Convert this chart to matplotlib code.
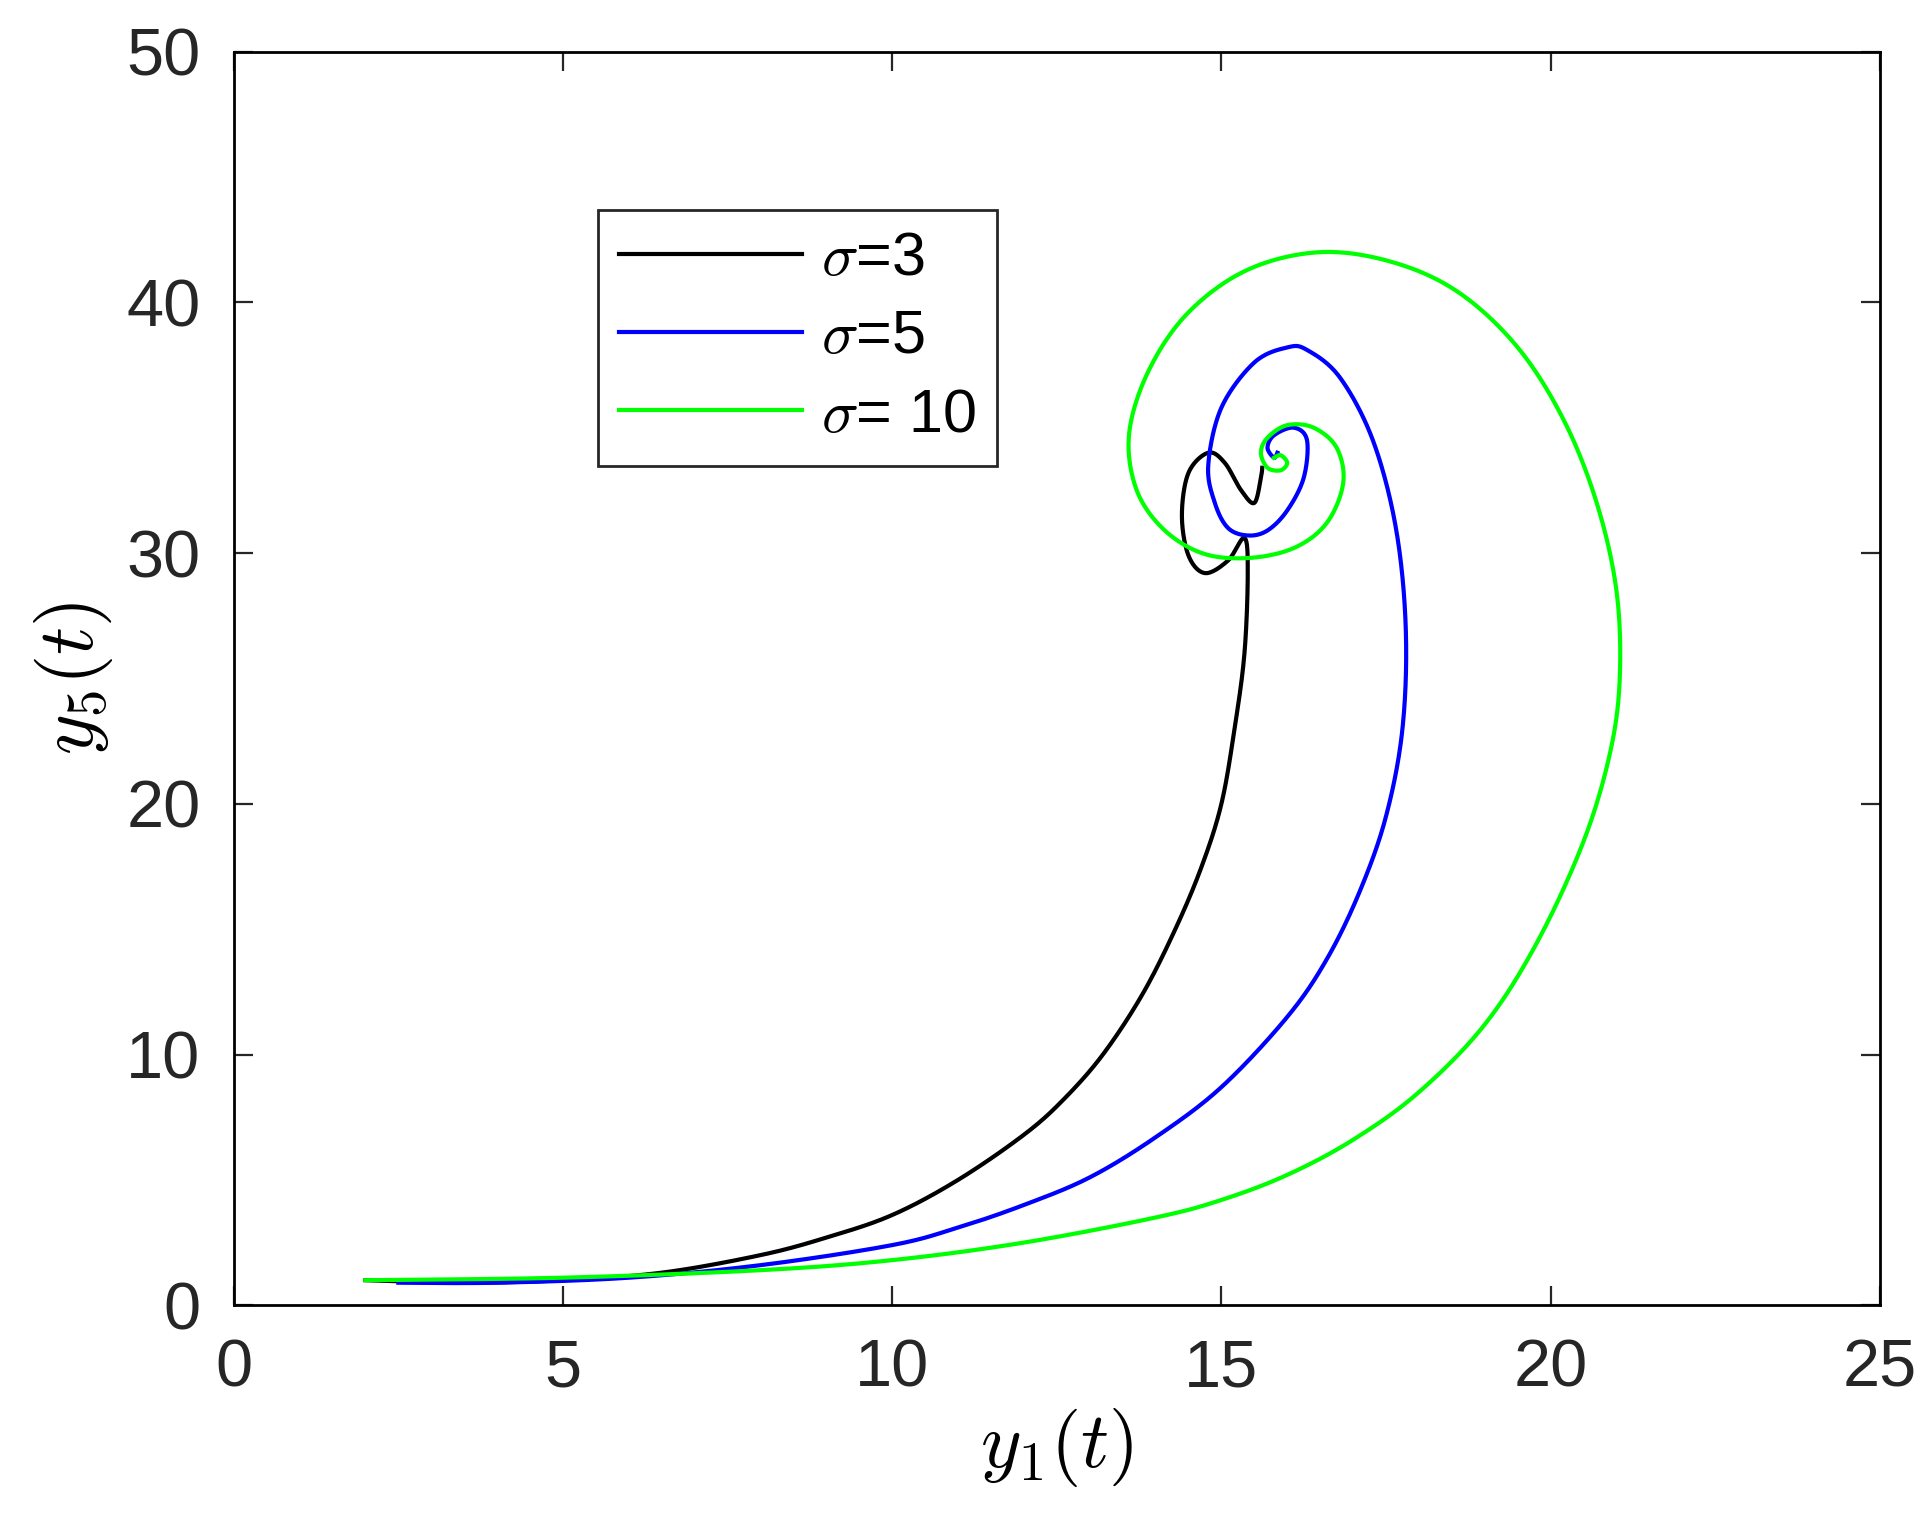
import numpy as np
import matplotlib
matplotlib.use("Agg")
import matplotlib.pyplot as plt

plt.rcParams['font.family'] = ['Liberation Sans', 'DejaVu Sans']
plt.rcParams['mathtext.fontset'] = 'cm'

black_x = [2,3.5,5,6.5,8,9,10,11,12,12.6,13.2,13.8,14.3,14.7,15.0,15.2,15.35,15.4,15.35,15.1,14.75,14.5,14.4,14.5,14.8,15.05,15.3,15.5,15.6,15.62]
black_y = [1.0,0.9,1.0,1.3,2.0,2.7,3.6,5,6.8,8.2,10,12.4,15,17.5,20,23,26,29.2,30.6,29.7,29.2,29.9,31.5,33.2,34.0,33.6,32.5,32.0,33.0,33.4]
blue_x = [2.5,4,6,8,10,11,12,13,14,15,16,16.6,17.1,17.5,17.75,17.8,17.65,17.3,16.8,16.3,16.0,15.5,15.0,14.8,14.9,15.1,15.4,15.7,16.0,16.25,16.3,16.1,15.8,15.7,15.8,15.85]
blue_y = [0.9,0.9,1.1,1.6,2.4,3.1,4,5.1,6.7,8.7,11.5,13.8,16.5,19.5,23,27,31,34.5,37,38.1,38.2,37.6,35.8,33.5,32,31,30.7,30.9,31.7,33,34.5,35,34.7,34.2,33.8,34.0]
green_x = [2,5,8,10,12,14,15,16,17,18,19,19.8,20.5,20.9,21.05,21.0,20.7,20.2,19.5,18.6,17.6,16.5,15.4,14.5,13.9,13.6,13.7,14.1,14.7,15.4,16.1,16.6,16.85,16.75,16.4,16.0,15.7,15.6,15.7,15.9,16.0,15.9,15.8]
green_y = [1,1.1,1.4,1.8,2.5,3.5,4.2,5.2,6.6,8.5,11.2,14.5,18.5,22,25,28.5,32,35.3,38.2,40.4,41.6,42,41.3,39.6,37.3,34.8,32.6,31.0,30.0,29.8,30.2,31.2,32.8,34.2,35.0,35.1,34.6,34.0,33.4,33.3,33.6,33.9,33.8]

def smooth(x, y, n=30):
    p = np.column_stack([x, y]).astype(float)
    p = np.vstack([p[0], p, p[-1]])
    out = []
    for i in range(1, len(p) - 2):
        p0, p1, p2, p3 = p[i-1], p[i], p[i+1], p[i+2]
        t = np.linspace(0, 1, n, endpoint=False)[:, None]
        out.append(0.5*((2*p1) + (-p0+p2)*t + (2*p0-5*p1+4*p2-p3)*t**2 + (-p0+3*p1-3*p2+p3)*t**3))
    out.append(p[-2][None])
    o = np.vstack(out)
    return o[:, 0], o[:, 1]

fig = plt.figure(figsize=(9.66, 7.58), dpi=200)
ax = fig.add_axes([0.121, 0.139, 0.852, 0.827])
for x, y, c, lab in [(black_x, black_y, 'black', r'$\sigma$=3'),
                     (blue_x, blue_y, 'blue', r'$\sigma$=5'),
                     (green_x, green_y, '#00ff00', r'$\sigma$= 10')]:
    sx, sy = smooth(x, y)
    ax.plot(sx, sy, color=c, lw=1.5, label=lab)
ax.set_xlim(0, 25)
ax.set_ylim(0, 50)
ax.set_xticks([0, 5, 10, 15, 20, 25])
ax.set_yticks([0, 10, 20, 30, 40, 50])
ax.tick_params(direction='in', top=True, right=True, labelsize=24, length=7, pad=12, colors='#262626')
for s in ax.spines.values():
    s.set_linewidth(1)
ax.set_xlabel(r'$y_1(t)$', fontsize=28, labelpad=2)
ax.set_ylabel(r'$y_5(t)$', fontsize=28, labelpad=4)
leg = ax.legend(loc='upper left', bbox_to_anchor=(0.221, 0.874), fontsize=22, fancybox=False,
                edgecolor='#262626', framealpha=1, handlelength=3.0, handletextpad=0.3,
                borderpad=0.35, labelspacing=0.35, borderaxespad=0)
leg.get_frame().set_linewidth(1)
fig.savefig('out.png', dpi=200)
